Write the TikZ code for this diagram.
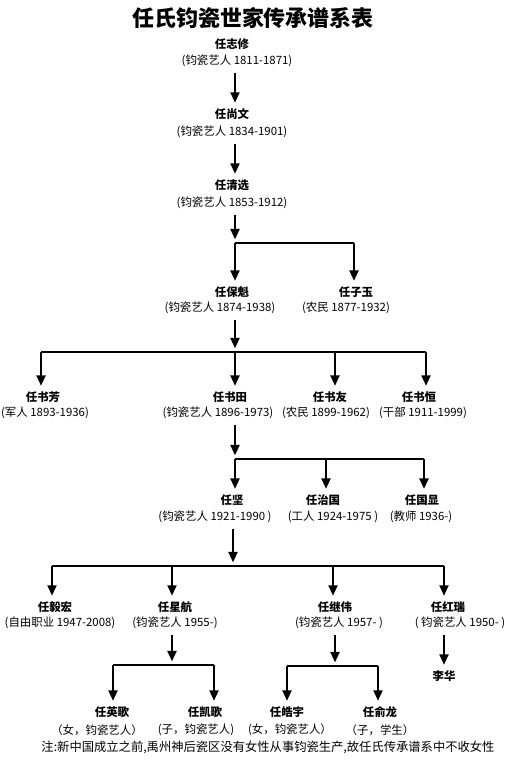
\documentclass[tikz,border=0pt]{standalone}
\usepackage{fontspec}
\setmainfont{Noto Sans CJK SC}
\usetikzlibrary{arrows.meta, positioning}

\begin{document}
\begin{tikzpicture}[
    x=0.02cm, y=-0.02cm,
    title/.style={font=\fontsize{12.5}{14}\selectfont\bfseries, inner sep=1pt},
    person/.style={font=\fontsize{6.5}{7.5}\selectfont\bfseries, inner sep=1pt},
    info/.style={font=\fontsize{6.5}{7.5}\selectfont, inner sep=1pt},
    note/.style={font=\fontsize{7}{8}\selectfont, inner sep=1pt},
    arrow/.style={line width=1.4pt, -{Triangle[length=6pt,width=5pt]}, shorten >=2pt},
    stem/.style={arrow, shorten <=2pt},
    bar/.style={line width=0.8pt}
]
\useasboundingbox (0,0) rectangle (512,774);

\node (title) [title] at (253,18) {任氏钧瓷世家传承谱系表};

% first generations
\node (zx) [person] at (232,44) {任志修};
\node (zxi) [info] at (237,61) {(钧瓷艺人 1811-1871)};
\node (sw) [person] at (232,114) {任尚文};
\node (swi) [info] at (232,132) {(钧瓷艺人 1834-1901)};
\node (qx) [person] at (232,185) {任清选};
\node (qxi) [info] at (232,203) {(钧瓷艺人 1853-1912)};

\node (bk) [person] at (232,292) {任保魁};
\node (bki) [info] at (220,308) {(钧瓷艺人 1874-1938)};
\node (zy) [person] at (356,292) {任子玉};
\node (zyi) [info] at (346,308) {(农民 1877-1932)};

% 书 generation
\node (sf) [person] at (43,397) {任书芳};
\node (sfi) [info] at (45,413) {(军人 1893-1936)};
\node (st) [person] at (230,397) {任书田};
\node (sti) [info] at (218,413) {(钧瓷艺人 1896-1973)};
\node (sy) [person] at (330,397) {任书友};
\node (syi) [info] at (326,413) {(农民 1899-1962)};
\node (sh) [person] at (419,397) {任书恒};
\node (shi) [info] at (423,413) {(干部 1911-1999)};

\node (jian) [person] at (232,500) {任坚};
\node (jiani) [info] at (215,517) {(钧瓷艺人 1921-1990 )};
\node (zg) [person] at (323,500) {任治国};
\node (zgi) [info] at (333,517) {(工人 1924-1975 )};
\node (gx) [person] at (422,500) {任国显};
\node (gxi) [info] at (421,517) {(教师 1936-)};

\node (yh) [person] at (55,607) {任毅宏};
\node (yhi) [info] at (60,623) {(自由职业 1947-2008)};
\node (xh) [person] at (175,607) {任星航};
\node (xhi) [info] at (175,623) {(钧瓷艺人 1955-)};
\node (jw) [person] at (335,607) {任继伟};
\node (jwi) [info] at (339,623) {(钧瓷艺人 1957- )};
\node (hr) [person] at (448,607) {任红瑞};
\node (hri) [info] at (460,623) {( 钧瓷艺人 1950- )};
\node (lh) [person] at (444,676) {李华};

\node (yg) [person] at (112,712) {任英歌};
\node (ygi) [info] at (97,730) {（女，钧瓷艺人）};
\node (kg) [person] at (205,712) {任凯歌};
\node (kgi) [info] at (196,730) {(子，钧瓷艺人)};
\node (hy) [person] at (287,712) {任皓宇};
\node (hyi) [info] at (290,730) {(女，钧瓷艺人）};
\node (yl) [person] at (380,712) {任俞龙};
\node (yli) [info] at (380,730) {（子，学生）};

\node (nt) [note] at (268,747) {注:新中国成立之前,禹州神后瓷区没有女性从事钧瓷生产,故任氏传承谱系中不收女性};

% branch points
\coordinate (b1) at (235,243);
\coordinate (b1r) at (354,243);
\coordinate (b2) at (235,352);
\coordinate (b2l) at (41,352);
\coordinate (b2c) at (335,352);
\coordinate (b2r) at (426,352);
\coordinate (b3) at (235,459);
\coordinate (b3c) at (326,459);
\coordinate (b3r) at (424,459);
\coordinate (b4) at (233,566);
\coordinate (b4l) at (52,566);
\coordinate (b4a) at (172,566);
\coordinate (b4b) at (333,566);
\coordinate (b4r) at (444,566);
\coordinate (b5) at (172,665);
\coordinate (b5l) at (113,665);
\coordinate (b5r) at (214,665);
\coordinate (b6) at (335,666);
\coordinate (b6l) at (287,666);
\coordinate (b6r) at (378,666);

\draw [stem] (zxi.south -| b1) -- (sw.north -| b1);
\draw [stem] (swi.south -| b1) -- (qx.north -| b1);
\draw [stem] (qxi.south -| b1) -- (b1);
\draw [stem] (bki.south -| b2) -- (b2);
\draw [stem] (sti.south -| b3) -- (b3);
\draw [stem] (jiani.south -| b4) -- (b4);
\draw [stem] (xhi.south -| b5) -- (b5);
\draw [stem] (jwi.south -| b6) -- (b6);
\draw [stem] (hri.south -| b4r) -- (lh.north -| b4r);

\draw [bar] (b1) -- (b1r);
\draw [bar] (b2l) -- (b2r);
\draw [bar] (b3) -- (b3r);
\draw [bar] (b4l) -- (b4r);
\draw [bar] (b5l) -- (b5r);
\draw [bar] (b6l) -- (b6r);

\foreach \c/\n in {b1/bk, b1r/zy, b2l/sf, b2/st, b2c/sy, b2r/sh, b3/jian, b3c/zg, b3r/gx,
                   b4l/yh, b4a/xh, b4b/jw, b4r/hr, b5l/yg, b5r/kg, b6l/hy, b6r/yl}
    \draw [arrow] (\c) -- (\c |- \n.north);

\end{tikzpicture}
\end{document}
